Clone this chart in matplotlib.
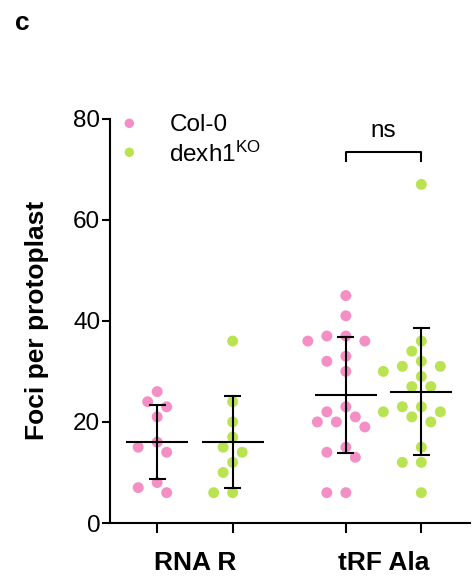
import numpy as np
import matplotlib
matplotlib.use("Agg")
import matplotlib.pyplot as plt

plt.rcParams['font.family'] = ['Liberation Sans', 'DejaVu Sans']
plt.rcParams['mathtext.default'] = 'regular'

# ---- data ----
categories = ["RNA R", "tRF Ala"]
series_names = ["Col-0", r"dexh1$^{KO}$"]
colors = ["#F48FC6", "#B9E350"]

col0_rnar = [26, 24, 23, 21, 16, 15, 14, 8, 7, 6]
dexh1_rnar = [36, 24, 20, 17, 15, 14, 12, 10, 6, 6]
col0_trf = [45, 41, 37, 37, 36, 36, 33, 32, 30, 23, 22, 21, 20, 20, 19, 15, 14, 13, 6, 6]
dexh1_trf = [67, 36, 34, 32, 31, 31, 30, 29, 27, 27, 23, 23, 22, 22, 21, 20, 15, 12, 12, 6]

groups = [[col0_rnar, dexh1_rnar], [col0_trf, dexh1_trf]]
yticks = [0, 20, 40, 60, 80]
sig_label = "ns"

# ---- figure ----
W, H = 475, 578
fig = plt.figure(figsize=(W / 100, H / 100), dpi=100)
ax = fig.add_axes([110 / W, 1 - 523 / H, 360 / W, 404.3 / H])
xlim = (-0.45, 1.458)
ax.set_xlim(*xlim)
ax.set_ylim(0, 80)

px_per_x = 360 / (xlim[1] - xlim[0])
px_per_y = 404.3 / 80
sub_off = 0.2


def swarm_offsets(values, diam=11.5, step=9.5):
    vals = np.asarray(values, dtype=float)
    order = np.argsort(-vals, kind="stable")
    placed = []
    offs = np.zeros(len(vals))
    cands = [0]
    for k in range(1, 12):
        cands += [-k, k]
    for i in order:
        y = vals[i] * px_per_y
        for k in cands:
            x = k * step
            if all((x - px) ** 2 + (y - py) ** 2 >= diam ** 2 for px, py in placed):
                break
        placed.append((x, y))
        offs[i] = x
    return offs / px_per_x


xticks = []
for ci, cat in enumerate(categories):
    for si in range(2):
        vals = np.asarray(groups[ci][si], dtype=float)
        xc = ci + (-sub_off if si == 0 else sub_off)
        xticks.append(xc)
        offs = swarm_offsets(vals)
        ax.scatter(xc + offs, vals, s=62, color=colors[si], edgecolors='none',
                   zorder=2, clip_on=False)
        m = vals.mean()
        sd = vals.std(ddof=1)
        ax.plot([xc - 0.164, xc + 0.164], [m, m], color='black', lw=1.5, zorder=3,
                solid_capstyle='butt')
        ax.plot([xc, xc], [m - sd, m + sd], color='black', lw=1.5, zorder=3)
        for yy in (m - sd, m + sd):
            ax.plot([xc - 0.045, xc + 0.045], [yy, yy], color='black', lw=1.5, zorder=3,
                    solid_capstyle='butt')

# significance bracket on tRF Ala
x1, x2 = 1 - sub_off, 1 + sub_off
ax.plot([x1, x1, x2, x2], [71.6, 73.4, 73.4, 71.6], color='black', lw=1.5,
        clip_on=False, zorder=3)
ax.text((x1 + x2) / 2, 75.3, sig_label, ha='center', va='bottom', fontsize=17.5)

# axes styling
for s in ['top', 'right']:
    ax.spines[s].set_visible(False)
for s in ['left', 'bottom']:
    ax.spines[s].set_linewidth(1.5)
ax.set_yticks(yticks)
ax.set_yticklabels([str(t) for t in yticks], fontsize=17.5)
ax.tick_params(axis='y', length=6, width=1.5, pad=1)
ax.set_xticks(xticks)
ax.set_xticklabels([])
ax.tick_params(axis='x', length=7, width=1.5)

for ci, cat in enumerate(categories):
    ax.annotate(cat, xy=(ci, 0), xycoords=('data', 'axes fraction'),
                xytext=(0, -20), textcoords='offset points', ha='center', va='top',
                fontsize=19, fontweight='bold')

fig.text(37 / W, 1 - 320 / H, "Foci per protoplast", rotation=90, ha='center',
         va='center', fontsize=19, fontweight='bold')
fig.text(15 / W, 1 - 30 / H, "c", ha='left', va='baseline', fontsize=19,
         fontweight='bold')

# legend
leg_y = [1 - (123.3 - 118.7) / 404.3, 1 - (152.3 - 118.7) / 404.3]
for si in range(2):
    ax.scatter([(129.3 - 110) / 360], [leg_y[si]], s=46, color=colors[si],
               edgecolors='none', transform=ax.transAxes, clip_on=False)
    ax.text((169.3 - 110) / 360, leg_y[si] - 0.004, series_names[si],
            transform=ax.transAxes, ha='left', va='center', fontsize=17.5)

fig.savefig("out.png", dpi=100)
